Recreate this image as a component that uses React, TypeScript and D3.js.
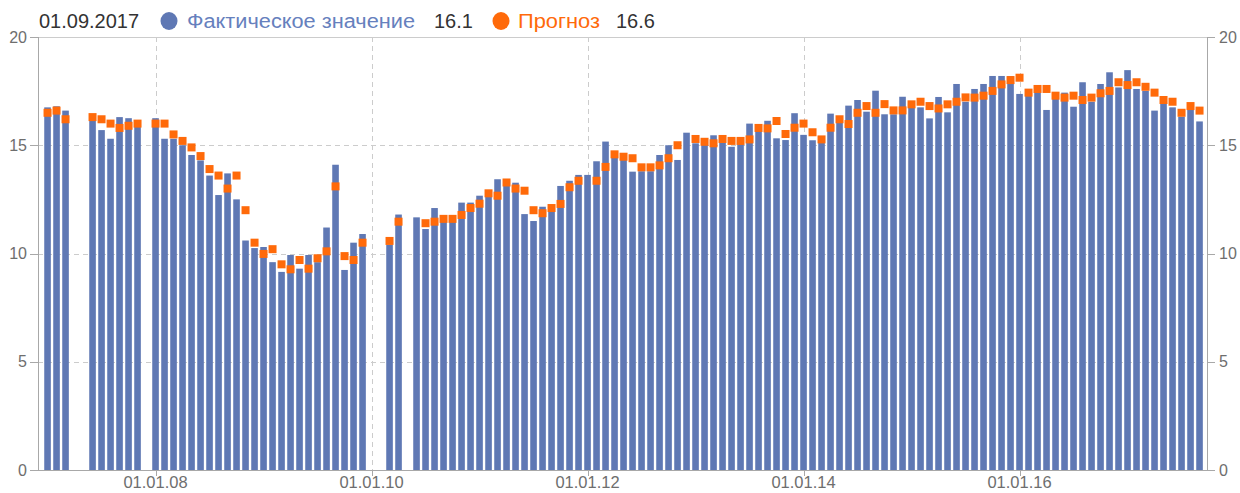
import React, { useEffect, useRef } from 'react';
import * as d3 from 'd3';

// monthly values, Jan 2007 .. Sep 2017, null = no data
const actual = [
  16.75, 16.8, 16.6, null, null, 16.4, 15.7, 15.3, 16.3, 16.25, 16.1, null, // 2007
  16.25, 15.3, 15.3, 15.0, 14.55, 14.3, 13.6, 12.7, 13.7, 12.5, 10.6, 10.25, // 2008
  10.3, 9.6, 9.15, 9.93, 9.3, 9.93, 9.6, 11.2, 14.1, 9.24, 10.5, 10.9, // 2009
  null, null, 10.4, 11.8, null, 11.67, 11.13, 12.1, 11.55, 11.6, 12.35, 12.35, // 2010
  12.67, 12.85, 13.43, 13.24, 13.27, 11.82, 11.5, 12.16, 12.04, 13.12, 13.36, 13.63, // 2011
  13.63, 14.26, 15.17, 14.47, 14.4, 13.78, 13.8, 13.8, 14.55, 15.0, 14.32, 15.58, // 2012
  15.09, 15.21, 15.46, 15.12, 14.93, 15.21, 16.0, 15.78, 16.13, 15.32, 15.24, 16.48, // 2013
  15.48, 15.23, 15.14, 16.46, 16.15, 16.83, 17.09, 16.55, 17.52, 16.43, 16.43, 17.24, // 2014
  16.78, 16.75, 16.24, 17.23, 16.52, 17.83, 17.01, 17.6, 17.83, 18.2, 18.2, 18.19, // 2015
  17.37, 17.6, 17.7, 16.63, 17.17, 17.43, 16.78, 17.91, 17.01, 17.83, 18.37, 17.67, // 2016
  18.47, 17.6, 17.51, 16.6, 16.94, 16.75, 16.32, 16.63, 16.1, // 2017
];

const forecast = [
  16.5, 16.6, 16.2, null, null, 16.3, 16.2, 16.0, 15.8, 15.9, 16.0, null,
  16.0, 16.0, 15.5, 15.2, 14.9, 14.5, 13.9, 13.6, 13.0, 13.6, 12.0, 10.5,
  9.98, 10.2, 9.5, 9.27, 9.7, 9.3, 9.78, 10.1, 13.1, 9.88, 9.7, 10.5,
  null, null, 10.58, 11.47, null, null, 11.4, 11.47, 11.6, 11.6, 11.78, 12.1,
  12.3, 12.78, 12.67, 13.28, 13.0, 12.9, 12.0, 11.86, 12.1, 12.29, 13.06, 13.36,
  null, 13.36, 14.0, 14.58, 14.47, 14.4, 13.98, 13.98, 14.07, 14.4, 15.0, null,
  15.29, 15.16, 15.09, 15.29, 15.2, 15.2, 15.27, 15.8, 15.78, 16.12, 15.52, 15.81,
  16.0, 15.6, 15.27, 15.81, 16.2, 15.98, 16.5, 16.81, 16.5, 16.9, 16.61, 16.61,
  16.89, 17.01, 16.81, 16.7, 16.89, 17.01, 17.21, 17.2, 17.29, 17.51, 17.81, 18.01,
  18.12, 17.43, 17.6, 17.6, 17.29, 17.2, 17.29, 17.09, 17.2, 17.4, 17.51, 17.91,
  17.78, 17.91, 17.7, 17.43, 17.09, 17.01, 16.5, 16.81, 16.6,
];

const xTickMonths = [12, 36, 60, 84, 108];
const xTickLabels = ['01.01.08', '01.01.10', '01.01.12', '01.01.14', '01.01.16'];
const yTicks = [0, 5, 10, 15, 20];
const legendDate = '01.09.2017';
const seriesNames = ['Фактическое значение', 'Прогноз'];

const BLUE = '#5f78b4';
const ORANGE = '#ff6a0a';
const GRID = '#cccccc';
const AXIS = '#a8a8a8';
const LABEL = '#6e6e6e';

export default function App() {
  const ref = useRef<SVGSVGElement>(null);

  useEffect(() => {
    const svg = d3.select(ref.current);
    svg.selectAll('*').remove();

    const x = d3.scaleLinear().domain([-1.06, 128.83]).range([38, 1207]);
    const y = d3.scaleLinear().domain([0, 20]).range([470, 37]);
    const [x0, x1] = x.range();
    const [yb, yt] = y.range();

    // grid
    const grid = svg.append('g').attr('shape-rendering', 'crispEdges');
    grid
      .selectAll('line.h')
      .data(yTicks.filter(t => t > 0))
      .join('line')
      .attr('x1', x0)
      .attr('x2', x1)
      .attr('y1', d => Math.round(y(d)) + 0.5)
      .attr('y2', d => Math.round(y(d)) + 0.5)
      .attr('stroke', GRID)
      .attr('stroke-dasharray', d => (d === 20 ? null : '5,4'));
    grid
      .selectAll('line.v')
      .data(xTickMonths)
      .join('line')
      .attr('x1', d => Math.round(x(d)) + 0.5)
      .attr('x2', d => Math.round(x(d)) + 0.5)
      .attr('y1', yt)
      .attr('y2', yb)
      .attr('stroke', GRID)
      .attr('stroke-dasharray', '5,4');

    // bars
    const bw = 6.6;
    svg
      .append('g')
      .selectAll('rect')
      .data(actual.map((v, i) => ({ v, i })).filter(d => d.v != null))
      .join('rect')
      .attr('x', d => x(d.i) - bw / 2)
      .attr('y', d => y(d.v as number))
      .attr('width', bw)
      .attr('height', d => yb - y(d.v as number))
      .attr('fill', BLUE);

    // forecast markers
    const ms = 8;
    svg
      .append('g')
      .selectAll('rect')
      .data(forecast.map((v, i) => ({ v, i })).filter(d => d.v != null))
      .join('rect')
      .attr('x', d => x(d.i) - ms / 2)
      .attr('y', d => y(d.v as number) - ms / 2)
      .attr('width', ms)
      .attr('height', ms)
      .attr('fill', ORANGE);

    // axes
    const ax = svg.append('g').attr('shape-rendering', 'crispEdges').attr('stroke', AXIS);
    ax.append('line').attr('x1', x0 + 0.5).attr('x2', x0 + 0.5).attr('y1', yt).attr('y2', yb + 1).attr('stroke-width', 1.5);
    ax.append('line').attr('x1', x1 + 0.5).attr('x2', x1 + 0.5).attr('y1', yt).attr('y2', yb + 1).attr('stroke-width', 1.5);
    ax.append('line').attr('x1', x0 - 8).attr('x2', x1 + 8).attr('y1', yb + 0.5).attr('y2', yb + 0.5);
    yTicks.forEach(t => {
      const yy = Math.round(y(t)) + 0.5;
      ax.append('line').attr('x1', x0 - 8).attr('x2', x0).attr('y1', yy).attr('y2', yy);
      ax.append('line').attr('x1', x1).attr('x2', x1 + 8).attr('y1', yy).attr('y2', yy);
    });
    xTickMonths.forEach(m => {
      const xx = Math.round(x(m)) + 0.5;
      ax.append('line').attr('x1', xx).attr('x2', xx).attr('y1', yb).attr('y2', yb + 6);
    });

    const labels = svg.append('g').attr('fill', LABEL).attr('font-size', 16);
    yTicks.forEach(t => {
      labels.append('text').attr('x', x0 - 11).attr('y', y(t)).attr('dy', '0.35em').attr('text-anchor', 'end').text(t);
      labels.append('text').attr('x', x1 + 12).attr('y', y(t)).attr('dy', '0.35em').text(t);
    });
    xTickMonths.forEach((m, i) => {
      labels
        .append('text')
        .attr('x', x(m))
        .attr('y', 488)
        .attr('text-anchor', 'middle')
        .attr('font-size', 16.5)
        .text(xTickLabels[i]);
    });

    // legend
    const fmt = d3.format('.1f');
    const lastA = actual[actual.length - 1] as number;
    const lastF = forecast[forecast.length - 1] as number;
    const lg = svg.append('g').attr('font-size', 20);
    lg.append('text').attr('x', 39).attr('y', 28).attr('fill', '#333').text(legendDate);
    lg.append('ellipse').attr('cx', 169).attr('cy', 21).attr('rx', 8.5).attr('ry', 9).attr('fill', BLUE);
    lg.append('text')
      .attr('x', 187)
      .attr('y', 28)
      .attr('fill', '#6680bd')
      .attr('textLength', 228)
      .attr('lengthAdjust', 'spacingAndGlyphs')
      .text(seriesNames[0]);
    lg.append('text').attr('x', 434).attr('y', 28).attr('fill', '#333').text(fmt(lastA));
    lg.append('ellipse').attr('cx', 501).attr('cy', 21).attr('rx', 8.5).attr('ry', 9).attr('fill', ORANGE);
    lg.append('text')
      .attr('x', 518)
      .attr('y', 28)
      .attr('fill', ORANGE)
      .attr('textLength', 82)
      .attr('lengthAdjust', 'spacingAndGlyphs')
      .text(seriesNames[1]);
    lg.append('text').attr('x', 616).attr('y', 28).attr('fill', '#333').text(fmt(lastF));
  }, []);

  return (
    <svg
      ref={ref}
      width={1240}
      height={493}
      style={{ position: 'absolute', left: 0, top: 0, background: '#fff', fontFamily: '"Liberation Sans", Arial, sans-serif' }}
    />
  );
}
